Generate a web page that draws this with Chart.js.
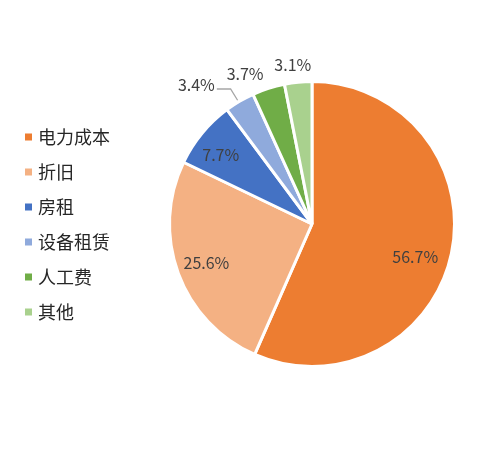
<!DOCTYPE html>
<html><head><meta charset="utf-8">
<script src="https://cdn.jsdelivr.net/npm/chart.js@4/dist/chart.umd.min.js"></script>
<style>html,body{margin:0;padding:0;background:#fff;}#wrap{width:502px;height:450px;position:relative;}</style>
</head><body><div id="wrap"><canvas id="c" width="502" height="450"></canvas></div>
<script>
const categories = ['电力成本','折旧','房租','设备租赁','人工费','其他'];
const values = [56.7, 25.6, 7.7, 3.4, 3.7, 3.1];
const colors = ['#ED7D31','#F4B183','#4472C4','#8FAADC','#70AD47','#A9D18E'];
// label placement styling: radius factor and pixel nudges
const labelPlace = [
  {k:0.74, dx:0, dy:11},
  {k:0.79, dx:0, dy:0},
  {k:0.83, dx:0, dy:6},
  {k:1.10, dx:-36, dy:-4, leader:true},
  {k:1.10, dx:-19, dy:-1},
  {k:1.10, dx:-4, dy:-3}
];
const FONT = '"Noto Sans CJK SC","Noto Sans",sans-serif';

const labelPlugin = {
  id:'labels',
  afterDraw(chart){
    const ctx = chart.ctx;
    const meta = chart.getDatasetMeta(0);
    ctx.save();
    ctx.font = '16px ' + FONT;
    ctx.textAlign = 'center';
    ctx.textBaseline = 'middle';
    meta.data.forEach((arc, i) => {
      const p = arc.getProps(['x','y','startAngle','endAngle','outerRadius']);
      const mid = (p.startAngle + p.endAngle)/2;
      const pl = labelPlace[i];
      const lx = p.x + Math.cos(mid)*p.outerRadius*pl.k + pl.dx;
      const ly = p.y + Math.sin(mid)*p.outerRadius*pl.k + pl.dy;
      const txt = values[i].toFixed(1) + '%';
      if (pl.leader){
        const ex = p.x + Math.cos(mid)*p.outerRadius;
        const ey = p.y + Math.sin(mid)*p.outerRadius;
        const w = ctx.measureText(txt).width;
        ctx.strokeStyle = '#A6A6A6';
        ctx.lineWidth = 1.3;
        ctx.beginPath();
        ctx.moveTo(lx + w/2 + 2, ly + 4);
        ctx.lineTo(ex - 9, ly + 4);
        ctx.lineTo(ex - 2, ey - 1);
        ctx.stroke();
      }
      ctx.fillStyle = '#404040';
      ctx.fillText(txt, lx, ly);
    });
    // legend
    ctx.textAlign = 'left';
    ctx.font = '18px ' + FONT;
    categories.forEach((c, i) => {
      const y = 137 + i*35;
      ctx.fillStyle = colors[i];
      ctx.fillRect(25, y-3.5, 7, 7);
      ctx.fillStyle = '#262626';
      ctx.fillText(c, 38, y);
    });
    ctx.restore();
  }
};

new Chart(document.getElementById('c'), {
  type:'pie',
  data:{labels:categories, datasets:[{data:values, backgroundColor:colors, borderColor:'#ffffff', borderWidth:3}]},
  options:{
    responsive:false, animation:false,
    layout:{padding:{left:168, right:46, top:80, bottom:82}},
    plugins:{legend:{display:false}, tooltip:{enabled:false}}
  },
  plugins:[labelPlugin]
});
</script></body></html>
